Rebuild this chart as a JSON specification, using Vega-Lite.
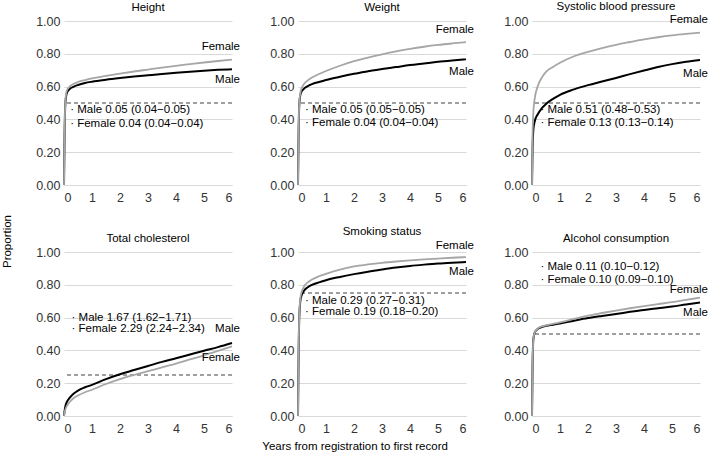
{
  "$schema": "https://vega.github.io/schema/vega-lite/v6.json",
  "padding": {"left": 2, "right": 2, "top": 0, "bottom": 5},
  "background": "white",
  "title": {"text": "Years from registration to first record", "orient": "bottom", "anchor": "middle", "fontSize": 11.5, "fontWeight": "normal", "font": "Liberation Sans", "color": "#000000", "offset": 6},
  "datasets": {
    "main": [
      {"panel": "Height", "kind": "curve", "sex": "Male", "x": 0, "y": 0},
      {"panel": "Height", "kind": "curve", "sex": "Male", "x": 0.02, "y": 0.3},
      {"panel": "Height", "kind": "curve", "sex": "Male", "x": 0.05, "y": 0.5},
      {"panel": "Height", "kind": "curve", "sex": "Male", "x": 0.1, "y": 0.56},
      {"panel": "Height", "kind": "curve", "sex": "Male", "x": 0.2, "y": 0.585},
      {"panel": "Height", "kind": "curve", "sex": "Male", "x": 0.35, "y": 0.6},
      {"panel": "Height", "kind": "curve", "sex": "Male", "x": 0.5, "y": 0.61},
      {"panel": "Height", "kind": "curve", "sex": "Male", "x": 0.75, "y": 0.622},
      {"panel": "Height", "kind": "curve", "sex": "Male", "x": 1, "y": 0.63},
      {"panel": "Height", "kind": "curve", "sex": "Male", "x": 1.5, "y": 0.642},
      {"panel": "Height", "kind": "curve", "sex": "Male", "x": 2, "y": 0.652},
      {"panel": "Height", "kind": "curve", "sex": "Male", "x": 2.5, "y": 0.661},
      {"panel": "Height", "kind": "curve", "sex": "Male", "x": 3, "y": 0.669},
      {"panel": "Height", "kind": "curve", "sex": "Male", "x": 3.5, "y": 0.677},
      {"panel": "Height", "kind": "curve", "sex": "Male", "x": 4, "y": 0.684},
      {"panel": "Height", "kind": "curve", "sex": "Male", "x": 4.5, "y": 0.691},
      {"panel": "Height", "kind": "curve", "sex": "Male", "x": 5, "y": 0.697},
      {"panel": "Height", "kind": "curve", "sex": "Male", "x": 5.5, "y": 0.702},
      {"panel": "Height", "kind": "curve", "sex": "Male", "x": 6, "y": 0.706},
      {"panel": "Height", "kind": "curve", "sex": "Female", "x": 0, "y": 0},
      {"panel": "Height", "kind": "curve", "sex": "Female", "x": 0.02, "y": 0.3},
      {"panel": "Height", "kind": "curve", "sex": "Female", "x": 0.05, "y": 0.51},
      {"panel": "Height", "kind": "curve", "sex": "Female", "x": 0.1, "y": 0.575},
      {"panel": "Height", "kind": "curve", "sex": "Female", "x": 0.2, "y": 0.6},
      {"panel": "Height", "kind": "curve", "sex": "Female", "x": 0.35, "y": 0.617},
      {"panel": "Height", "kind": "curve", "sex": "Female", "x": 0.5, "y": 0.628},
      {"panel": "Height", "kind": "curve", "sex": "Female", "x": 0.75, "y": 0.64},
      {"panel": "Height", "kind": "curve", "sex": "Female", "x": 1, "y": 0.65},
      {"panel": "Height", "kind": "curve", "sex": "Female", "x": 1.5, "y": 0.665},
      {"panel": "Height", "kind": "curve", "sex": "Female", "x": 2, "y": 0.679},
      {"panel": "Height", "kind": "curve", "sex": "Female", "x": 2.5, "y": 0.692},
      {"panel": "Height", "kind": "curve", "sex": "Female", "x": 3, "y": 0.704},
      {"panel": "Height", "kind": "curve", "sex": "Female", "x": 3.5, "y": 0.716},
      {"panel": "Height", "kind": "curve", "sex": "Female", "x": 4, "y": 0.727},
      {"panel": "Height", "kind": "curve", "sex": "Female", "x": 4.5, "y": 0.737},
      {"panel": "Height", "kind": "curve", "sex": "Female", "x": 5, "y": 0.747},
      {"panel": "Height", "kind": "curve", "sex": "Female", "x": 5.5, "y": 0.756},
      {"panel": "Height", "kind": "curve", "sex": "Female", "x": 6, "y": 0.764},

      {"panel": "Weight", "kind": "curve", "sex": "Male", "x": 0, "y": 0},
      {"panel": "Weight", "kind": "curve", "sex": "Male", "x": 0.02, "y": 0.3},
      {"panel": "Weight", "kind": "curve", "sex": "Male", "x": 0.05, "y": 0.5},
      {"panel": "Weight", "kind": "curve", "sex": "Male", "x": 0.1, "y": 0.56},
      {"panel": "Weight", "kind": "curve", "sex": "Male", "x": 0.2, "y": 0.585},
      {"panel": "Weight", "kind": "curve", "sex": "Male", "x": 0.35, "y": 0.603},
      {"panel": "Weight", "kind": "curve", "sex": "Male", "x": 0.5, "y": 0.615},
      {"panel": "Weight", "kind": "curve", "sex": "Male", "x": 0.75, "y": 0.628},
      {"panel": "Weight", "kind": "curve", "sex": "Male", "x": 1, "y": 0.64},
      {"panel": "Weight", "kind": "curve", "sex": "Male", "x": 1.5, "y": 0.66},
      {"panel": "Weight", "kind": "curve", "sex": "Male", "x": 2, "y": 0.678},
      {"panel": "Weight", "kind": "curve", "sex": "Male", "x": 2.5, "y": 0.693},
      {"panel": "Weight", "kind": "curve", "sex": "Male", "x": 3, "y": 0.707},
      {"panel": "Weight", "kind": "curve", "sex": "Male", "x": 3.5, "y": 0.719},
      {"panel": "Weight", "kind": "curve", "sex": "Male", "x": 4, "y": 0.731},
      {"panel": "Weight", "kind": "curve", "sex": "Male", "x": 4.5, "y": 0.741},
      {"panel": "Weight", "kind": "curve", "sex": "Male", "x": 5, "y": 0.751},
      {"panel": "Weight", "kind": "curve", "sex": "Male", "x": 5.5, "y": 0.759},
      {"panel": "Weight", "kind": "curve", "sex": "Male", "x": 6, "y": 0.766},
      {"panel": "Weight", "kind": "curve", "sex": "Female", "x": 0, "y": 0},
      {"panel": "Weight", "kind": "curve", "sex": "Female", "x": 0.02, "y": 0.3},
      {"panel": "Weight", "kind": "curve", "sex": "Female", "x": 0.05, "y": 0.51},
      {"panel": "Weight", "kind": "curve", "sex": "Female", "x": 0.1, "y": 0.575},
      {"panel": "Weight", "kind": "curve", "sex": "Female", "x": 0.2, "y": 0.612},
      {"panel": "Weight", "kind": "curve", "sex": "Female", "x": 0.35, "y": 0.638},
      {"panel": "Weight", "kind": "curve", "sex": "Female", "x": 0.5, "y": 0.655},
      {"panel": "Weight", "kind": "curve", "sex": "Female", "x": 0.75, "y": 0.677},
      {"panel": "Weight", "kind": "curve", "sex": "Female", "x": 1, "y": 0.695},
      {"panel": "Weight", "kind": "curve", "sex": "Female", "x": 1.5, "y": 0.727},
      {"panel": "Weight", "kind": "curve", "sex": "Female", "x": 2, "y": 0.755},
      {"panel": "Weight", "kind": "curve", "sex": "Female", "x": 2.5, "y": 0.777},
      {"panel": "Weight", "kind": "curve", "sex": "Female", "x": 3, "y": 0.797},
      {"panel": "Weight", "kind": "curve", "sex": "Female", "x": 3.5, "y": 0.815},
      {"panel": "Weight", "kind": "curve", "sex": "Female", "x": 4, "y": 0.83},
      {"panel": "Weight", "kind": "curve", "sex": "Female", "x": 4.5, "y": 0.843},
      {"panel": "Weight", "kind": "curve", "sex": "Female", "x": 5, "y": 0.854},
      {"panel": "Weight", "kind": "curve", "sex": "Female", "x": 5.5, "y": 0.863},
      {"panel": "Weight", "kind": "curve", "sex": "Female", "x": 6, "y": 0.871},

      {"panel": "Systolic blood pressure", "kind": "curve", "sex": "Male", "x": 0, "y": 0},
      {"panel": "Systolic blood pressure", "kind": "curve", "sex": "Male", "x": 0.02, "y": 0.22},
      {"panel": "Systolic blood pressure", "kind": "curve", "sex": "Male", "x": 0.05, "y": 0.34},
      {"panel": "Systolic blood pressure", "kind": "curve", "sex": "Male", "x": 0.1, "y": 0.39},
      {"panel": "Systolic blood pressure", "kind": "curve", "sex": "Male", "x": 0.2, "y": 0.43},
      {"panel": "Systolic blood pressure", "kind": "curve", "sex": "Male", "x": 0.35, "y": 0.468},
      {"panel": "Systolic blood pressure", "kind": "curve", "sex": "Male", "x": 0.5, "y": 0.494},
      {"panel": "Systolic blood pressure", "kind": "curve", "sex": "Male", "x": 0.75, "y": 0.525},
      {"panel": "Systolic blood pressure", "kind": "curve", "sex": "Male", "x": 1, "y": 0.55},
      {"panel": "Systolic blood pressure", "kind": "curve", "sex": "Male", "x": 1.5, "y": 0.583},
      {"panel": "Systolic blood pressure", "kind": "curve", "sex": "Male", "x": 2, "y": 0.609},
      {"panel": "Systolic blood pressure", "kind": "curve", "sex": "Male", "x": 2.5, "y": 0.631},
      {"panel": "Systolic blood pressure", "kind": "curve", "sex": "Male", "x": 3, "y": 0.653},
      {"panel": "Systolic blood pressure", "kind": "curve", "sex": "Male", "x": 3.5, "y": 0.676},
      {"panel": "Systolic blood pressure", "kind": "curve", "sex": "Male", "x": 4, "y": 0.698},
      {"panel": "Systolic blood pressure", "kind": "curve", "sex": "Male", "x": 4.5, "y": 0.719},
      {"panel": "Systolic blood pressure", "kind": "curve", "sex": "Male", "x": 5, "y": 0.737},
      {"panel": "Systolic blood pressure", "kind": "curve", "sex": "Male", "x": 5.5, "y": 0.751},
      {"panel": "Systolic blood pressure", "kind": "curve", "sex": "Male", "x": 6, "y": 0.762},
      {"panel": "Systolic blood pressure", "kind": "curve", "sex": "Female", "x": 0, "y": 0},
      {"panel": "Systolic blood pressure", "kind": "curve", "sex": "Female", "x": 0.02, "y": 0.3},
      {"panel": "Systolic blood pressure", "kind": "curve", "sex": "Female", "x": 0.05, "y": 0.45},
      {"panel": "Systolic blood pressure", "kind": "curve", "sex": "Female", "x": 0.1, "y": 0.53},
      {"panel": "Systolic blood pressure", "kind": "curve", "sex": "Female", "x": 0.2, "y": 0.6},
      {"panel": "Systolic blood pressure", "kind": "curve", "sex": "Female", "x": 0.35, "y": 0.655},
      {"panel": "Systolic blood pressure", "kind": "curve", "sex": "Female", "x": 0.5, "y": 0.69},
      {"panel": "Systolic blood pressure", "kind": "curve", "sex": "Female", "x": 0.75, "y": 0.72},
      {"panel": "Systolic blood pressure", "kind": "curve", "sex": "Female", "x": 1, "y": 0.745},
      {"panel": "Systolic blood pressure", "kind": "curve", "sex": "Female", "x": 1.5, "y": 0.785},
      {"panel": "Systolic blood pressure", "kind": "curve", "sex": "Female", "x": 2, "y": 0.812},
      {"panel": "Systolic blood pressure", "kind": "curve", "sex": "Female", "x": 2.5, "y": 0.835},
      {"panel": "Systolic blood pressure", "kind": "curve", "sex": "Female", "x": 3, "y": 0.855},
      {"panel": "Systolic blood pressure", "kind": "curve", "sex": "Female", "x": 3.5, "y": 0.872},
      {"panel": "Systolic blood pressure", "kind": "curve", "sex": "Female", "x": 4, "y": 0.888},
      {"panel": "Systolic blood pressure", "kind": "curve", "sex": "Female", "x": 4.5, "y": 0.901},
      {"panel": "Systolic blood pressure", "kind": "curve", "sex": "Female", "x": 5, "y": 0.912},
      {"panel": "Systolic blood pressure", "kind": "curve", "sex": "Female", "x": 5.5, "y": 0.921},
      {"panel": "Systolic blood pressure", "kind": "curve", "sex": "Female", "x": 6, "y": 0.929},

      {"panel": "Total cholesterol", "kind": "curve", "sex": "Male", "x": 0, "y": 0},
      {"panel": "Total cholesterol", "kind": "curve", "sex": "Male", "x": 0.02, "y": 0.03},
      {"panel": "Total cholesterol", "kind": "curve", "sex": "Male", "x": 0.05, "y": 0.06},
      {"panel": "Total cholesterol", "kind": "curve", "sex": "Male", "x": 0.1, "y": 0.085},
      {"panel": "Total cholesterol", "kind": "curve", "sex": "Male", "x": 0.2, "y": 0.11},
      {"panel": "Total cholesterol", "kind": "curve", "sex": "Male", "x": 0.35, "y": 0.137},
      {"panel": "Total cholesterol", "kind": "curve", "sex": "Male", "x": 0.5, "y": 0.155},
      {"panel": "Total cholesterol", "kind": "curve", "sex": "Male", "x": 0.75, "y": 0.175},
      {"panel": "Total cholesterol", "kind": "curve", "sex": "Male", "x": 1, "y": 0.19},
      {"panel": "Total cholesterol", "kind": "curve", "sex": "Male", "x": 1.5, "y": 0.225},
      {"panel": "Total cholesterol", "kind": "curve", "sex": "Male", "x": 2, "y": 0.255},
      {"panel": "Total cholesterol", "kind": "curve", "sex": "Male", "x": 2.5, "y": 0.28},
      {"panel": "Total cholesterol", "kind": "curve", "sex": "Male", "x": 3, "y": 0.305},
      {"panel": "Total cholesterol", "kind": "curve", "sex": "Male", "x": 3.5, "y": 0.33},
      {"panel": "Total cholesterol", "kind": "curve", "sex": "Male", "x": 4, "y": 0.352},
      {"panel": "Total cholesterol", "kind": "curve", "sex": "Male", "x": 4.5, "y": 0.375},
      {"panel": "Total cholesterol", "kind": "curve", "sex": "Male", "x": 5, "y": 0.398},
      {"panel": "Total cholesterol", "kind": "curve", "sex": "Male", "x": 5.5, "y": 0.42},
      {"panel": "Total cholesterol", "kind": "curve", "sex": "Male", "x": 6, "y": 0.445},
      {"panel": "Total cholesterol", "kind": "curve", "sex": "Female", "x": 0, "y": 0},
      {"panel": "Total cholesterol", "kind": "curve", "sex": "Female", "x": 0.02, "y": 0.02},
      {"panel": "Total cholesterol", "kind": "curve", "sex": "Female", "x": 0.05, "y": 0.04},
      {"panel": "Total cholesterol", "kind": "curve", "sex": "Female", "x": 0.1, "y": 0.06},
      {"panel": "Total cholesterol", "kind": "curve", "sex": "Female", "x": 0.2, "y": 0.085},
      {"panel": "Total cholesterol", "kind": "curve", "sex": "Female", "x": 0.35, "y": 0.11},
      {"panel": "Total cholesterol", "kind": "curve", "sex": "Female", "x": 0.5, "y": 0.125},
      {"panel": "Total cholesterol", "kind": "curve", "sex": "Female", "x": 0.75, "y": 0.145},
      {"panel": "Total cholesterol", "kind": "curve", "sex": "Female", "x": 1, "y": 0.16},
      {"panel": "Total cholesterol", "kind": "curve", "sex": "Female", "x": 1.5, "y": 0.195},
      {"panel": "Total cholesterol", "kind": "curve", "sex": "Female", "x": 2, "y": 0.225},
      {"panel": "Total cholesterol", "kind": "curve", "sex": "Female", "x": 2.5, "y": 0.25},
      {"panel": "Total cholesterol", "kind": "curve", "sex": "Female", "x": 3, "y": 0.273},
      {"panel": "Total cholesterol", "kind": "curve", "sex": "Female", "x": 3.5, "y": 0.297},
      {"panel": "Total cholesterol", "kind": "curve", "sex": "Female", "x": 4, "y": 0.32},
      {"panel": "Total cholesterol", "kind": "curve", "sex": "Female", "x": 4.5, "y": 0.345},
      {"panel": "Total cholesterol", "kind": "curve", "sex": "Female", "x": 5, "y": 0.37},
      {"panel": "Total cholesterol", "kind": "curve", "sex": "Female", "x": 5.5, "y": 0.397},
      {"panel": "Total cholesterol", "kind": "curve", "sex": "Female", "x": 6, "y": 0.425},

      {"panel": "Smoking status", "kind": "curve", "sex": "Male", "x": 0, "y": 0},
      {"panel": "Smoking status", "kind": "curve", "sex": "Male", "x": 0.02, "y": 0.35},
      {"panel": "Smoking status", "kind": "curve", "sex": "Male", "x": 0.05, "y": 0.62},
      {"panel": "Smoking status", "kind": "curve", "sex": "Male", "x": 0.1, "y": 0.72},
      {"panel": "Smoking status", "kind": "curve", "sex": "Male", "x": 0.2, "y": 0.76},
      {"panel": "Smoking status", "kind": "curve", "sex": "Male", "x": 0.35, "y": 0.785},
      {"panel": "Smoking status", "kind": "curve", "sex": "Male", "x": 0.5, "y": 0.8},
      {"panel": "Smoking status", "kind": "curve", "sex": "Male", "x": 0.75, "y": 0.815},
      {"panel": "Smoking status", "kind": "curve", "sex": "Male", "x": 1, "y": 0.828},
      {"panel": "Smoking status", "kind": "curve", "sex": "Male", "x": 1.5, "y": 0.848},
      {"panel": "Smoking status", "kind": "curve", "sex": "Male", "x": 2, "y": 0.865},
      {"panel": "Smoking status", "kind": "curve", "sex": "Male", "x": 2.5, "y": 0.88},
      {"panel": "Smoking status", "kind": "curve", "sex": "Male", "x": 3, "y": 0.893},
      {"panel": "Smoking status", "kind": "curve", "sex": "Male", "x": 3.5, "y": 0.905},
      {"panel": "Smoking status", "kind": "curve", "sex": "Male", "x": 4, "y": 0.915},
      {"panel": "Smoking status", "kind": "curve", "sex": "Male", "x": 4.5, "y": 0.923},
      {"panel": "Smoking status", "kind": "curve", "sex": "Male", "x": 5, "y": 0.93},
      {"panel": "Smoking status", "kind": "curve", "sex": "Male", "x": 5.5, "y": 0.935},
      {"panel": "Smoking status", "kind": "curve", "sex": "Male", "x": 6, "y": 0.939},
      {"panel": "Smoking status", "kind": "curve", "sex": "Female", "x": 0, "y": 0},
      {"panel": "Smoking status", "kind": "curve", "sex": "Female", "x": 0.02, "y": 0.36},
      {"panel": "Smoking status", "kind": "curve", "sex": "Female", "x": 0.05, "y": 0.63},
      {"panel": "Smoking status", "kind": "curve", "sex": "Female", "x": 0.1, "y": 0.735},
      {"panel": "Smoking status", "kind": "curve", "sex": "Female", "x": 0.2, "y": 0.785},
      {"panel": "Smoking status", "kind": "curve", "sex": "Female", "x": 0.35, "y": 0.815},
      {"panel": "Smoking status", "kind": "curve", "sex": "Female", "x": 0.5, "y": 0.832},
      {"panel": "Smoking status", "kind": "curve", "sex": "Female", "x": 0.75, "y": 0.852},
      {"panel": "Smoking status", "kind": "curve", "sex": "Female", "x": 1, "y": 0.867},
      {"panel": "Smoking status", "kind": "curve", "sex": "Female", "x": 1.5, "y": 0.893},
      {"panel": "Smoking status", "kind": "curve", "sex": "Female", "x": 2, "y": 0.912},
      {"panel": "Smoking status", "kind": "curve", "sex": "Female", "x": 2.5, "y": 0.924},
      {"panel": "Smoking status", "kind": "curve", "sex": "Female", "x": 3, "y": 0.934},
      {"panel": "Smoking status", "kind": "curve", "sex": "Female", "x": 3.5, "y": 0.942},
      {"panel": "Smoking status", "kind": "curve", "sex": "Female", "x": 4, "y": 0.949},
      {"panel": "Smoking status", "kind": "curve", "sex": "Female", "x": 4.5, "y": 0.955},
      {"panel": "Smoking status", "kind": "curve", "sex": "Female", "x": 5, "y": 0.96},
      {"panel": "Smoking status", "kind": "curve", "sex": "Female", "x": 5.5, "y": 0.965},
      {"panel": "Smoking status", "kind": "curve", "sex": "Female", "x": 6, "y": 0.969},

      {"panel": "Alcohol consumption", "kind": "curve", "sex": "Male", "x": 0, "y": 0},
      {"panel": "Alcohol consumption", "kind": "curve", "sex": "Male", "x": 0.02, "y": 0.3},
      {"panel": "Alcohol consumption", "kind": "curve", "sex": "Male", "x": 0.05, "y": 0.47},
      {"panel": "Alcohol consumption", "kind": "curve", "sex": "Male", "x": 0.1, "y": 0.51},
      {"panel": "Alcohol consumption", "kind": "curve", "sex": "Male", "x": 0.2, "y": 0.53},
      {"panel": "Alcohol consumption", "kind": "curve", "sex": "Male", "x": 0.35, "y": 0.543},
      {"panel": "Alcohol consumption", "kind": "curve", "sex": "Male", "x": 0.5, "y": 0.55},
      {"panel": "Alcohol consumption", "kind": "curve", "sex": "Male", "x": 0.75, "y": 0.557},
      {"panel": "Alcohol consumption", "kind": "curve", "sex": "Male", "x": 1, "y": 0.564},
      {"panel": "Alcohol consumption", "kind": "curve", "sex": "Male", "x": 1.5, "y": 0.581},
      {"panel": "Alcohol consumption", "kind": "curve", "sex": "Male", "x": 2, "y": 0.597},
      {"panel": "Alcohol consumption", "kind": "curve", "sex": "Male", "x": 2.5, "y": 0.61},
      {"panel": "Alcohol consumption", "kind": "curve", "sex": "Male", "x": 3, "y": 0.622},
      {"panel": "Alcohol consumption", "kind": "curve", "sex": "Male", "x": 3.5, "y": 0.635},
      {"panel": "Alcohol consumption", "kind": "curve", "sex": "Male", "x": 4, "y": 0.647},
      {"panel": "Alcohol consumption", "kind": "curve", "sex": "Male", "x": 4.5, "y": 0.657},
      {"panel": "Alcohol consumption", "kind": "curve", "sex": "Male", "x": 5, "y": 0.667},
      {"panel": "Alcohol consumption", "kind": "curve", "sex": "Male", "x": 5.5, "y": 0.68},
      {"panel": "Alcohol consumption", "kind": "curve", "sex": "Male", "x": 6, "y": 0.692},
      {"panel": "Alcohol consumption", "kind": "curve", "sex": "Female", "x": 0, "y": 0},
      {"panel": "Alcohol consumption", "kind": "curve", "sex": "Female", "x": 0.02, "y": 0.3},
      {"panel": "Alcohol consumption", "kind": "curve", "sex": "Female", "x": 0.05, "y": 0.47},
      {"panel": "Alcohol consumption", "kind": "curve", "sex": "Female", "x": 0.1, "y": 0.51},
      {"panel": "Alcohol consumption", "kind": "curve", "sex": "Female", "x": 0.2, "y": 0.532},
      {"panel": "Alcohol consumption", "kind": "curve", "sex": "Female", "x": 0.35, "y": 0.546},
      {"panel": "Alcohol consumption", "kind": "curve", "sex": "Female", "x": 0.5, "y": 0.553},
      {"panel": "Alcohol consumption", "kind": "curve", "sex": "Female", "x": 0.75, "y": 0.562},
      {"panel": "Alcohol consumption", "kind": "curve", "sex": "Female", "x": 1, "y": 0.571},
      {"panel": "Alcohol consumption", "kind": "curve", "sex": "Female", "x": 1.5, "y": 0.592},
      {"panel": "Alcohol consumption", "kind": "curve", "sex": "Female", "x": 2, "y": 0.612},
      {"panel": "Alcohol consumption", "kind": "curve", "sex": "Female", "x": 2.5, "y": 0.628},
      {"panel": "Alcohol consumption", "kind": "curve", "sex": "Female", "x": 3, "y": 0.643},
      {"panel": "Alcohol consumption", "kind": "curve", "sex": "Female", "x": 3.5, "y": 0.657},
      {"panel": "Alcohol consumption", "kind": "curve", "sex": "Female", "x": 4, "y": 0.67},
      {"panel": "Alcohol consumption", "kind": "curve", "sex": "Female", "x": 4.5, "y": 0.682},
      {"panel": "Alcohol consumption", "kind": "curve", "sex": "Female", "x": 5, "y": 0.694},
      {"panel": "Alcohol consumption", "kind": "curve", "sex": "Female", "x": 5.5, "y": 0.708},
      {"panel": "Alcohol consumption", "kind": "curve", "sex": "Female", "x": 6, "y": 0.722},

      {"panel": "Height", "kind": "ref", "y": 0.5},
      {"panel": "Weight", "kind": "ref", "y": 0.5},
      {"panel": "Systolic blood pressure", "kind": "ref", "y": 0.5},
      {"panel": "Total cholesterol", "kind": "ref", "y": 0.25},
      {"panel": "Smoking status", "kind": "ref", "y": 0.75},
      {"panel": "Alcohol consumption", "kind": "ref", "y": 0.5},

      {"panel": "Height", "kind": "note", "x": 0.22, "y": 0.455, "label": "· Male 0.05 (0.04−0.05)"},
      {"panel": "Height", "kind": "note", "x": 0.22, "y": 0.375, "label": "· Female 0.04 (0.04−0.04)"},
      {"panel": "Weight", "kind": "note", "x": 0.25, "y": 0.457, "label": "· Male 0.05 (0.05−0.05)"},
      {"panel": "Weight", "kind": "note", "x": 0.25, "y": 0.376, "label": "· Female 0.04 (0.04−0.04)"},
      {"panel": "Systolic blood pressure", "kind": "note", "x": 0.3, "y": 0.457, "label": "· Male 0.51 (0.48−0.53)"},
      {"panel": "Systolic blood pressure", "kind": "note", "x": 0.3, "y": 0.376, "label": "· Female 0.13 (0.13−0.14)"},
      {"panel": "Total cholesterol", "kind": "note", "x": 0.27, "y": 0.6, "label": "· Male 1.67 (1.62−1.71)"},
      {"panel": "Total cholesterol", "kind": "note", "x": 0.27, "y": 0.53, "label": "· Female 2.29 (2.24−2.34)"},
      {"panel": "Smoking status", "kind": "note", "x": 0.25, "y": 0.703, "label": "· Male 0.29 (0.27−0.31)"},
      {"panel": "Smoking status", "kind": "note", "x": 0.25, "y": 0.632, "label": "· Female 0.19 (0.18−0.20)"},
      {"panel": "Alcohol consumption", "kind": "note", "x": 0.3, "y": 0.907, "label": "· Male 0.11 (0.10−0.12)"},
      {"panel": "Alcohol consumption", "kind": "note", "x": 0.3, "y": 0.829, "label": "· Female 0.10 (0.09−0.10)"},

      {"panel": "Height", "kind": "end", "x": 6, "y": 0.84, "label": "Female"},
      {"panel": "Height", "kind": "end", "x": 6, "y": 0.64, "label": "Male"},
      {"panel": "Weight", "kind": "end", "x": 6, "y": 0.945, "label": "Female"},
      {"panel": "Weight", "kind": "end", "x": 6, "y": 0.69, "label": "Male"},
      {"panel": "Systolic blood pressure", "kind": "end", "x": 6, "y": 1.006, "label": "Female"},
      {"panel": "Systolic blood pressure", "kind": "end", "x": 6, "y": 0.677, "label": "Male"},
      {"panel": "Total cholesterol", "kind": "end", "x": 6, "y": 0.53, "label": "Male"},
      {"panel": "Total cholesterol", "kind": "end", "x": 6, "y": 0.352, "label": "Female"},
      {"panel": "Smoking status", "kind": "end", "x": 6, "y": 1.037, "label": "Female"},
      {"panel": "Smoking status", "kind": "end", "x": 6, "y": 0.876, "label": "Male"},
      {"panel": "Alcohol consumption", "kind": "end", "x": 6, "y": 0.768, "label": "Female"},
      {"panel": "Alcohol consumption", "kind": "end", "x": 6, "y": 0.626, "label": "Male"}
    ]
  },
  "vconcat": [
    {
      "title": {"text": "Proportion", "orient": "left", "anchor": "middle", "fontSize": 11.5, "fontWeight": "normal", "font": "Liberation Sans", "color": "#000000", "offset": 22, "dx": -24},
      "data": {"name": "main"},
      "columns": 3,
      "facet": {
        "field": "panel",
        "type": "nominal",
        "sort": ["Height", "Weight", "Systolic blood pressure", "Total cholesterol", "Smoking status", "Alcohol consumption"],
        "title": null,
        "header": {
          "labelFontSize": 11.5,
          "labelFontWeight": "normal",
          "labelColor": "#000000",
          "labelFont": "Liberation Sans",
          "labelPadding": 2
        }
      },
      "spacing": {"row": 67, "column": 66},
      "bounds": "flush",
      "resolve": {"axis": {"x": "independent", "y": "independent"}},
      "spec": {
        "width": 168,
        "height": 164,
        "encoding": {
          "x": {"field": "x", "type": "quantitative", "scale": {"domain": [0, 6], "nice": false}, "axis": {"values": [0, 1, 2, 3, 4, 5, 6], "title": null, "grid": false, "ticks": false, "domain": true, "domainColor": "#d9d9d9", "labelPadding": 6, "format": "d"}},
          "y": {"field": "y", "type": "quantitative", "scale": {"domain": [0, 1], "nice": false}, "axis": {"values": [0, 0.2, 0.4, 0.6, 0.8, 1], "format": ".2f", "title": null, "grid": true, "gridColor": "#d9d9d9", "ticks": false, "domain": false, "labelPadding": 4}}
        },
        "layer": [
          {
            "transform": [{"filter": "datum.kind === 'ref'"}],
            "mark": {"type": "rule", "strokeDash": [4, 3], "color": "#404040", "strokeWidth": 1},
            "encoding": {"x": null}
          },
          {
            "transform": [{"filter": "datum.kind === 'curve' && datum.sex === 'Male'"}],
            "mark": {"type": "line", "color": "#000000", "strokeWidth": 2, "interpolate": "monotone"}
          },
          {
            "transform": [{"filter": "datum.kind === 'curve' && datum.sex === 'Female'"}],
            "mark": {"type": "line", "color": "#a6a6a6", "strokeWidth": 1.8, "interpolate": "monotone"}
          },
          {
            "transform": [{"filter": "datum.kind === 'note'"}],
            "mark": {"type": "text", "align": "left", "baseline": "middle", "fontSize": 11.5, "color": "#000000", "font": "Liberation Sans"},
            "encoding": {"text": {"field": "label"}}
          },
          {
            "transform": [{"filter": "datum.kind === 'end'"}],
            "mark": {"type": "text", "align": "right", "baseline": "middle", "dx": 8, "fontSize": 11.5, "color": "#000000", "font": "Liberation Sans"},
            "encoding": {"text": {"field": "label"}}
          }
        ]
      }
    }
  ],
  "config": {
    "font": "Liberation Sans",
    "view": {"stroke": null},
    "axis": {"labelFontSize": 12.5, "labelColor": "#333333", "labelFont": "Liberation Sans"}
  }
}
